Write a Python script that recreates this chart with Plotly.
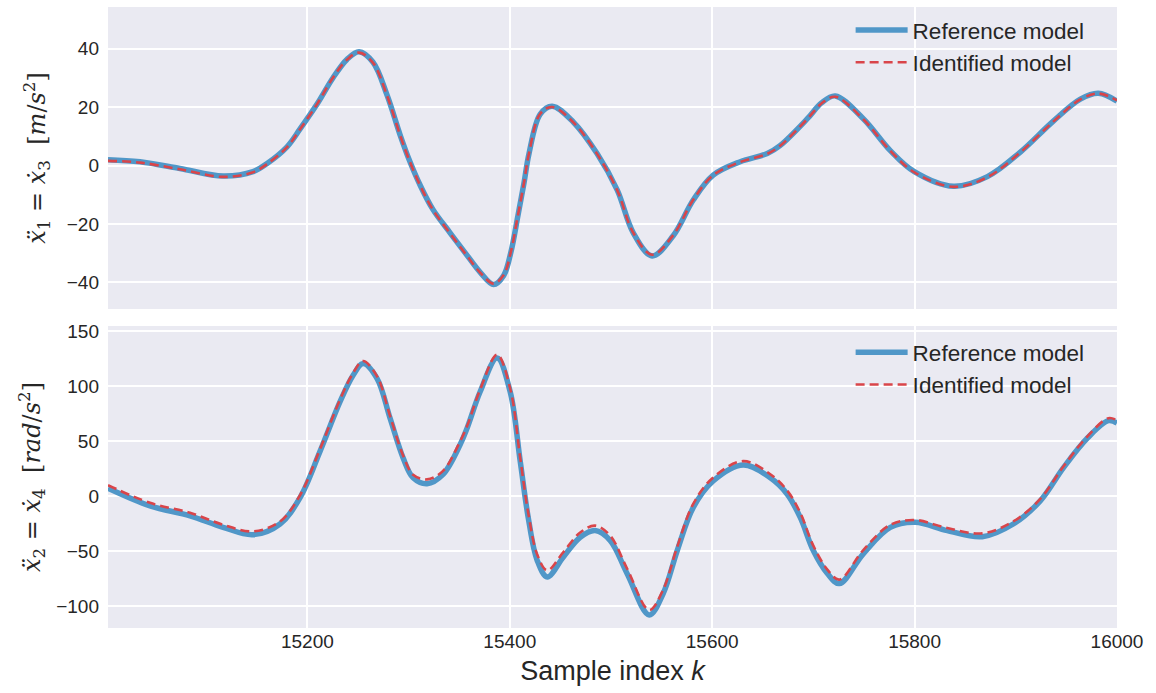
import plotly.graph_objects as go
from plotly.subplots import make_subplots

# ---------------- data ----------------
k_top = [15003, 15034.6, 15074.1, 15116.7, 15146.3, 15160.2, 15179.9, 15192.8, 15209.6,
         15225.4, 15239.2, 15251.1, 15264.9, 15278.8, 15291.6, 15300, 15311.8, 15324,
         15341, 15358, 15371, 15384, 15394, 15401, 15408, 15414, 15419, 15430.1,
         15441.9, 15462.7, 15486.4, 15506.2, 15522, 15540.7, 15561.5, 15581.3, 15601,
         15627.7, 15654.4, 15667, 15694, 15708, 15721.6, 15749.3, 15776, 15799.7,
         15838.3, 15871.9, 15904.5, 15937.1, 15963.8, 15981.6, 16000]
ref_top = [2.0, 1.3, -1.0, -3.6, -2.1, 0.7, 6.4, 12.5, 21.0,
           30.0, 36.3, 38.9, 35.3, 24.0, 10.5, 2.5, -7.0, -15.0,
           -23.0, -30.8, -36.6, -40.7, -37.6, -29.8, -17.3, -6.1, 4.1, 17.6,
           20.3, 14.9, 4.0, -8.4, -23.0, -30.9, -24.0, -11.8, -3.3,
           1.3, 4.1, 6.8, 16.0, 21.4, 23.8, 16.0, 5.1, -2.1,
           -7.1, -3.8, 4.6, 15.2, 22.7, 24.7, 22.0]
idf_top = [1.6, 1.0, -1.3, -3.9, -2.3, 0.5, 6.3, 12.4, 21.0,
           30.1, 36.2, 38.6, 35.1, 23.8, 10.4, 2.4, -7.1, -15.1,
           -23.2, -31.0, -36.7, -40.4, -37.4, -29.6, -17.1, -6.0, 4.2, 17.7,
           20.0, 14.8, 3.9, -8.5, -23.0, -30.5, -23.8, -11.7, -3.3,
           1.2, 4.0, 6.7, 15.9, 21.2, 23.5, 15.8, 5.0, -2.3,
           -7.3, -4.0, 4.5, 15.0, 22.6, 24.6, 22.3]

k_bot = [15003, 15044.5, 15084, 15116.7, 15146.3, 15173, 15192.8, 15212.6, 15232.3,
         15245.2, 15255, 15268.9, 15281.7, 15294.6, 15304.5, 15318.3, 15334.1, 15351,
         15357.9, 15370.7, 15387.5, 15400.4, 15410.3, 15418.2, 15427.1, 15437, 15452.8,
         15469.6, 15484.4, 15499.3, 15516, 15537.8, 15551.6, 15565.5, 15581.3, 15601,
         15630.7, 15657.4, 15674.2, 15687, 15699.9, 15713.6, 15725.6, 15749.3, 15776,
         15800.6, 15832.3, 15866.9, 15897.5, 15924.2, 15947, 15970.8, 15991.5, 16000]
ref_bot = [7.2, -8.8, -17.8, -28.3, -35.0, -25.3, -1.2, 41.0, 86.0,
           110.0, 120.7, 107.0, 71.0, 34.9, 16.8, 11.4, 19.9, 47.0,
           62.0, 95.0, 125.8, 95.0, 31.9, -19.3, -58.4, -73.5, -55.5,
           -37.4, -31.3, -40.4, -70.5, -108.0, -88.5, -49.4, -10.3, 13.8,
           28.3, 16.8, 1.8, -19.3, -49.4, -70.0, -79.5, -52.4, -28.4,
           -23.8, -31.3, -36.8, -25.3, -4.2, 25.8, 52.9, 68.7, 66.5]
idf_bot = [10.0, -6.0, -15.0, -26.0, -32.0, -23.0, 1.0, 43.0, 88.0,
           112.0, 123.0, 109.0, 73.0, 37.0, 19.5, 15.3, 23.0, 50.0,
           64.0, 97.0, 128.8, 98.0, 35.0, -15.0, -53.0, -67.5, -51.0,
           -33.0, -26.8, -36.0, -66.0, -103.6, -85.0, -46.0, -7.0, 17.0,
           31.9, 20.0, 5.0, -15.0, -45.0, -66.5, -75.9, -49.0, -26.0,
           -21.7, -29.0, -33.8, -23.0, -2.5, 27.0, 54.5, 71.0, 69.0]

x_ticks = [15200, 15400, 15600, 15800, 16000]
x_ticktext = ["15200", "15400", "15600", "15800", "16000"]
top_ticks = [-40, -20, 0, 20, 40]
bot_ticks = [-100, -50, 0, 50, 100, 150]

# ---------------- figure ----------------
BLUE = "#5097C8"
RED = "#D9454A"
BG = "#EAEAF2"
TXT = "#262626"
SANS = "Liberation Sans, Arial"

fig = make_subplots(rows=2, cols=1, shared_xaxes=True, vertical_spacing=0.0275)

for row, kk, ref, idf, lg in [(1, k_top, ref_top, idf_top, "legend"),
                              (2, k_bot, ref_bot, idf_bot, "legend2")]:
    fig.add_trace(go.Scatter(x=kk, y=ref, mode="lines", name="Reference model",
                             line=dict(color=BLUE, width=5.5, shape="spline", smoothing=1.0),
                             legend=lg), row=row, col=1)
    fig.add_trace(go.Scatter(x=kk, y=idf, mode="lines", name="Identified model",
                             line=dict(color=RED, width=2.6, dash="9px,5px",
                                       shape="spline", smoothing=1.0),
                             legend=lg), row=row, col=1)

axis_common = dict(showgrid=True, gridcolor="white", gridwidth=1.5, zeroline=False,
                   showline=False, ticks="",
                   tickfont=dict(size=19, color=TXT, family=SANS))

fig.update_xaxes(range=[15003, 16000], tickvals=x_ticks, ticktext=x_ticktext, **axis_common)
fig.update_xaxes(showticklabels=False, row=1, col=1)
fig.update_xaxes(title=dict(text="Sample index <i>k</i>", standoff=10,
                            font=dict(size=27, color=TXT, family=SANS)),
                 row=2, col=1)

fig.update_yaxes(range=[-49.05, 54.2], tickvals=top_ticks, ticklabelstandoff=8,
                 title=dict(text="<i>ẍ</i><sub>1</sub> = <i>ẋ</i><sub>3</sub>  [<i>m</i>/<i>s</i><sup>2</sup>]",
                            standoff=14,
                            font=dict(size=24, color=TXT, family="DejaVu Serif")),
                 **axis_common, row=1, col=1)
fig.update_yaxes(range=[-119.9, 154.8], tickvals=bot_ticks, ticklabelstandoff=8,
                 title=dict(text="<i>ẍ</i><sub>2</sub> = <i>ẋ</i><sub>4</sub>  [<i>rad</i>/<i>s</i><sup>2</sup>]",
                            standoff=8,
                            font=dict(size=24, color=TXT, family="DejaVu Serif")),
                 **axis_common, row=2, col=1)

legend_style = dict(bgcolor="rgba(0,0,0,0)", borderwidth=0,
                    font=dict(size=22.5, color=TXT, family=SANS),
                    xanchor="left", yanchor="top", itemwidth=52, tracegroupgap=0)

fig.update_layout(
    width=1156, height=693,
    margin=dict(l=108, r=39, t=2, b=65),
    plot_bgcolor=BG, paper_bgcolor="white",
    legend=dict(x=0.736, y=0.997, **legend_style),
    legend2=dict(x=0.736, y=0.478, **legend_style),
    showlegend=True,
)

fig.write_html("out.html")
